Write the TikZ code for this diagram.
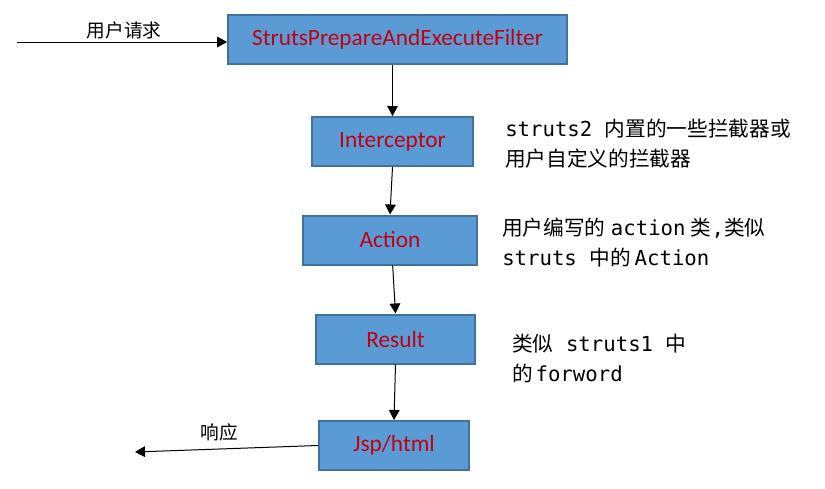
\documentclass[tikz,border=0pt]{standalone}
\usepackage{fontspec}
\setmainfont{Carlito}
\newfontfamily\cjk{Noto Sans CJK SC}
\newfontfamily\mono{DejaVu Sans Mono}
\usetikzlibrary{arrows.meta,positioning}

\definecolor{stagefill}{RGB}{91,155,213}
\definecolor{stageedge}{RGB}{65,113,156}
\definecolor{stagetext}{RGB}{195,0,15}

\newcommand{\zh}[1]{{\cjk #1}}

\begin{document}
\begin{tikzpicture}[x=0.75pt, y=-0.75pt,
    stage/.style={draw=stageedge, line width=1.5pt, fill=stagefill, text=stagetext,
      font=\fontsize{17.5}{20}\selectfont, minimum height=36.75pt, inner sep=0pt},
    flow/.style={-{Triangle[length=7.5pt,width=8pt]}, line width=0.75pt},
    note/.style={anchor=west, align=left, inner sep=0pt,
      font=\fontsize{15.5}{22.5}\selectfont\mono},
    tag/.style={inner sep=0pt, font=\fontsize{14}{16}\selectfont\cjk}]
    \useasboundingbox (0,0) rectangle (825,489);

    % the chain of boxes
    \node(filter)[stage, minimum width=254pt] at (397.5,39.5) {StrutsPrepareAndExecuteFilter};
    \node(icpt)[stage, minimum width=121pt] at (392.5,141.5) {Interceptor};
    \node(action)[stage, minimum width=130.5pt] at (390,240) {Action};
    \node(result)[stage, minimum width=119pt] at (395.5,339) {Result};
    \node(jsp)[stage, minimum width=112.5pt] at (394,445.5) {Jsp/html};

    % notes on the right
    \node(icptnote)[note] at (505,143.5) {struts2 \zh{内置的一些拦截器或}\\\zh{用户自定义的拦截器}};
    \node(actionnote)[note] at (502,242.5) {\zh{用户编写的}\hspace{4pt}action\hspace{4pt}\zh{类},\zh{类似}\\struts \zh{中的}\hspace{3pt}Action};
    \node(resultnote)[note] at (512,358) {\zh{类似} struts1 \zh{中}\\\zh{的}\hspace{2pt}forword};

    % request and response
    \coordinate (req) at (17,42);
    \coordinate (resp) at (135,452);
    \node(reqtag)[tag] at (124,30) {用户请求};
    \node(resptag)[tag] at (219,432) {响应};

    \draw[flow] (req) -- (req -| filter.west);
    \draw[flow] (filter.south -| icpt.north) -- (icpt.north);
    \draw[flow] (icpt.south) -- (action.north);
    \draw[flow] ([xshift=2pt]action.south) -- (result.north);
    \draw[flow] (result.south) -- (jsp.north);
    \draw[flow] (jsp.west) -- (resp);
\end{tikzpicture}
\end{document}
